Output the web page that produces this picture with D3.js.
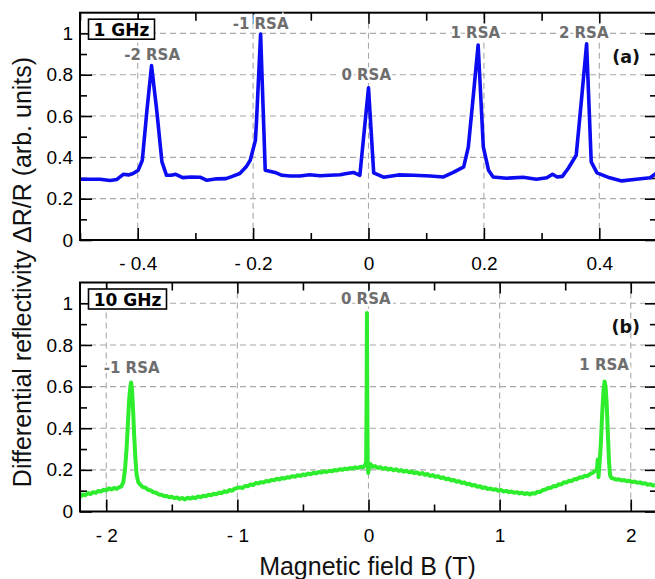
<!DOCTYPE html>
<html>
<head>
<meta charset="utf-8">
<script src="https://cdn.jsdelivr.net/npm/d3@7/dist/d3.min.js"></script>
<style>
  body { margin: 0; background: #fff; }
  svg { display: block; }
</style>
</head>
<body>
<svg id="chart" width="655" height="579"></svg>
<script>
// ---- data ----
// panel (a): 1 GHz, [field (T), dR/R]
const blueTrace = [
  [-0.500, 0.294], [-0.465, 0.294], [-0.448, 0.288], [-0.436, 0.293], [-0.425, 0.318],
  [-0.416, 0.315], [-0.408, 0.322], [-0.399, 0.338], [-0.392, 0.386], [-0.384, 0.627],
  [-0.376, 0.844], [-0.367, 0.627], [-0.358, 0.378], [-0.350, 0.313], [-0.342, 0.313],
  [-0.334, 0.318], [-0.322, 0.302], [-0.307, 0.305], [-0.292, 0.304], [-0.280, 0.289],
  [-0.263, 0.296], [-0.247, 0.297], [-0.236, 0.308], [-0.223, 0.322], [-0.212, 0.354],
  [-0.205, 0.386], [-0.196, 0.482], [-0.194, 0.579], [-0.187, 0.997], [-0.179, 0.338],
  [-0.162, 0.327], [-0.150, 0.313], [-0.136, 0.310], [-0.119, 0.310], [-0.102, 0.316],
  [-0.084, 0.311], [-0.067, 0.313], [-0.049, 0.316], [-0.038, 0.322], [-0.026, 0.327],
  [-0.015, 0.313], [0.000, 0.736], [0.009, 0.325], [0.026, 0.304], [0.052, 0.315],
  [0.078, 0.313], [0.107, 0.310], [0.130, 0.305], [0.147, 0.327], [0.165, 0.354],
  [0.173, 0.450], [0.182, 0.708], [0.190, 0.944], [0.199, 0.450], [0.208, 0.338],
  [0.216, 0.305], [0.239, 0.299], [0.268, 0.304], [0.291, 0.294], [0.309, 0.301],
  [0.319, 0.318], [0.327, 0.305], [0.336, 0.308], [0.346, 0.346], [0.360, 0.410],
  [0.369, 0.675], [0.378, 0.949], [0.386, 0.378], [0.396, 0.325], [0.418, 0.301],
  [0.439, 0.286], [0.464, 0.294], [0.488, 0.301], [0.500, 0.325]
];

// panel (b): 10 GHz, [field (T), dR/R]
const greenTrace = [
  [-2.20, .070], [-2.18, .082], [-2.16, .078], [-2.14, .088], [-2.12, .084], [-2.10, .093],
  [-2.08, .090], [-2.06, .099], [-2.04, .096], [-2.02, .105], [-2.00, .101], [-1.98, .111],
  [-1.96, .106], [-1.94, .113], [-1.92, .109], [-1.90, .117], [-1.885, .120], [-1.87, .140],
  [-1.857, .200], [-1.845, .300], [-1.835, .420], [-1.825, .540], [-1.816, .600], [-1.810, .620],
  [-1.804, .590], [-1.796, .500], [-1.788, .380], [-1.778, .260], [-1.768, .175], [-1.755, .140],
  [-1.74, .128], [-1.72, .117], [-1.70, .114], [-1.68, .104], [-1.66, .101], [-1.64, .092],
  [-1.62, .090], [-1.60, .082], [-1.58, .081], [-1.56, .074], [-1.54, .075], [-1.52, .068],
  [-1.50, .071], [-1.48, .064], [-1.46, .067], [-1.44, .060], [-1.42, .065], [-1.40, .058],
  [-1.38, .066], [-1.36, .062], [-1.34, .068], [-1.32, .064], [-1.30, .072], [-1.28, .069],
  [-1.26, .076], [-1.24, .073], [-1.22, .080], [-1.20, .078], [-1.18, .085], [-1.16, .083],
  [-1.14, .090], [-1.12, .088], [-1.10, .097], [-1.08, .094], [-1.06, .103], [-1.04, .100],
  [-1.02, .110], [-1.00, .113], [-0.98, .116], [-0.96, .113], [-0.94, .123], [-0.92, .121],
  [-0.90, .130], [-0.88, .127], [-0.86, .137], [-0.84, .135], [-0.82, .141], [-0.80, .139],
  [-0.78, .147], [-0.76, .144], [-0.74, .152], [-0.72, .150], [-0.70, .157], [-0.68, .154],
  [-0.66, .161], [-0.64, .158], [-0.62, .165], [-0.60, .163], [-0.58, .170], [-0.56, .167],
  [-0.54, .174], [-0.52, .171], [-0.50, .178], [-0.48, .175], [-0.46, .182], [-0.44, .179],
  [-0.42, .186], [-0.40, .183], [-0.38, .190], [-0.36, .187], [-0.34, .193], [-0.32, .190],
  [-0.30, .196], [-0.28, .193], [-0.26, .199], [-0.24, .197], [-0.22, .203], [-0.20, .200],
  [-0.18, .206], [-0.16, .203], [-0.14, .209], [-0.12, .206], [-0.10, .212], [-0.08, .209],
  [-0.06, .215], [-0.04, .213], [-0.025, .225], [-0.018, .235], [-0.014, .600], [-0.012, .953],
  [-0.010, .600], [-0.006, .240], [-0.002, .185], [0.004, .215], [0.015, .228], [0.03, .214],
  [0.05, .218], [0.07, .209], [0.09, .213], [0.11, .205], [0.13, .209], [0.15, .201],
  [0.17, .206], [0.19, .198], [0.21, .203], [0.23, .195], [0.25, .199], [0.27, .191],
  [0.29, .196], [0.31, .188], [0.33, .192], [0.35, .184], [0.37, .188], [0.39, .180],
  [0.41, .185], [0.43, .176], [0.45, .180], [0.47, .171], [0.49, .175], [0.51, .166],
  [0.53, .170], [0.55, .161], [0.57, .164], [0.59, .155], [0.61, .158], [0.63, .149],
  [0.65, .152], [0.67, .143], [0.69, .146], [0.71, .137], [0.73, .140], [0.75, .131],
  [0.77, .133], [0.79, .125], [0.81, .127], [0.83, .119], [0.85, .121], [0.87, .113],
  [0.89, .116], [0.91, .108], [0.93, .111], [0.95, .104], [0.97, .107], [0.99, .100],
  [1.01, .103], [1.03, .096], [1.05, .099], [1.07, .093], [1.09, .096], [1.11, .090],
  [1.13, .093], [1.15, .087], [1.17, .090], [1.19, .084], [1.21, .088], [1.23, .082],
  [1.25, .088], [1.27, .086], [1.29, .095], [1.31, .094], [1.33, .103], [1.35, .106],
  [1.37, .113], [1.39, .113], [1.41, .122], [1.43, .121], [1.45, .131], [1.47, .130],
  [1.49, .140], [1.51, .139], [1.53, .148], [1.55, .147], [1.57, .156], [1.59, .155],
  [1.61, .164], [1.63, .163], [1.65, .172], [1.67, .171], [1.69, .180], [1.71, .186],
  [1.73, .196], [1.742, .202], [1.748, .250], [1.754, .165], [1.762, .230], [1.772, .330],
  [1.782, .470], [1.792, .580], [1.800, .625], [1.808, .600], [1.816, .520], [1.825, .380],
  [1.834, .240], [1.842, .175], [1.85, .162], [1.87, .158], [1.89, .153], [1.91, .155],
  [1.93, .149], [1.95, .151], [1.97, .145], [1.99, .148], [2.01, .142], [2.03, .144],
  [2.05, .138], [2.07, .140], [2.09, .134], [2.11, .136], [2.13, .129], [2.15, .131],
  [2.17, .125], [2.19, .126], [2.20, .122]
];

// resonance labels: [text, field, level]
const rsaTop = [['-2 RSA', -0.375, 0.873], ['-1 RSA', -0.187, 1.023], ['0 RSA', -0.004, 0.772],
  ['1 RSA', 0.185, 0.979], ['2 RSA', 0.373, 0.979]];
const rsaBottom = [['-1 RSA', -1.806, 0.665], ['0 RSA', -0.021, 0.997], ['1 RSA', 1.797, 0.680]];

// ticks
const yMajor = [0, 0.2, 0.4, 0.6, 0.8, 1];
const yMajorLabels = ['0', '0.2', '0.4', '0.6', '0.8', '1'];
const yMinor = [0.1, 0.3, 0.5, 0.7, 0.9];
const topXMajor = [-0.4, -0.2, 0, 0.2, 0.4];
const topXLabels = ['- 0.4', '- 0.2', '0', '0.2', '0.4'];
const topXMinor = [-0.5, -0.3, -0.1, 0.1, 0.3, 0.5];
const botXMajor = [-2, -1, 0, 1, 2];
const botXLabels = ['- 2', '- 1', '0', '1', '2'];
const botXMinor = [-1.5, -0.5, 0.5, 1.5];

const svg = d3.select('#chart');
const plotLeft = 80, plotRight = 657;
const tickFont = '"Liberation Sans", Arial, Helvetica, sans-serif';
const boldFont = '"DejaVu Sans", Verdana, sans-serif';

const panels = [
  { key: 'a', top: 12.7, bottom: 240, domain: [-0.5, 0.5], major: topXMajor, labels: topXLabels,
    minor: topXMinor, data: blueTrace, color: '#0c0cf2', width: 3.6, freq: '1 GHz', boxW: 66,
    rsa: rsaTop, tag: '(a)' },
  { key: 'b', top: 282.5, bottom: 511.5, domain: [-2.2, 2.2], major: botXMajor, labels: botXLabels,
    minor: botXMinor, data: greenTrace, color: '#2ded2d', width: 4, freq: '10 GHz', boxW: 78,
    rsa: rsaBottom, tag: '(b)' }
];

panels.forEach((p) => {
  const x = d3.scaleLinear().domain(p.domain).range([plotLeft, plotRight]);
  const y = d3.scaleLinear().domain([0, 1.1]).range([p.bottom, p.top]);
  const g = svg.append('g');

  svg.append('clipPath').attr('id', 'clip-' + p.key)
    .append('rect').attr('x', plotLeft).attr('y', p.top)
    .attr('width', plotRight - plotLeft).attr('height', p.bottom - p.top);

  // dashed grid
  const grid = g.append('g').attr('stroke', '#a8a8a8').attr('stroke-width', 1.1)
    .attr('stroke-dasharray', '6,4');
  grid.selectAll('.gy').data(yMajor.filter((v) => v > 0)).enter().append('line')
    .attr('x1', plotLeft).attr('x2', plotRight)
    .attr('y1', (d) => y(d)).attr('y2', (d) => y(d));
  grid.selectAll('.gx').data(p.major).enter().append('line')
    .attr('x1', (d) => x(d)).attr('x2', (d) => x(d))
    .attr('y1', p.top).attr('y2', p.bottom);

  // ticks on all four sides, pointing inward
  const addAxis = (axis, tx, ty) => {
    const a = g.append('g').attr('transform', `translate(${tx},${ty})`).call(axis);
    a.select('.domain').remove();
    a.selectAll('line').attr('stroke', '#000').attr('stroke-width', 1.6);
    a.selectAll('text').attr('font-family', tickFont).attr('font-size', 19).attr('fill', '#000');
    return a;
  };
  addAxis(d3.axisLeft(y).tickValues(yMajor).tickSize(-12).tickPadding(7)
    .tickFormat((d, i) => yMajorLabels[i]), plotLeft, 0);
  addAxis(d3.axisLeft(y).tickValues(yMinor).tickSize(-7).tickFormat(''), plotLeft, 0);
  addAxis(d3.axisRight(y).tickValues(yMajor).tickSize(-12).tickFormat(''), plotRight, 0);
  addAxis(d3.axisRight(y).tickValues(yMinor).tickSize(-7).tickFormat(''), plotRight, 0);
  addAxis(d3.axisBottom(x).tickValues(p.major).tickSize(-12).tickPadding(17)
    .tickFormat((d, i) => p.labels[i]), 0, p.bottom);
  addAxis(d3.axisBottom(x).tickValues(p.minor).tickSize(-7).tickFormat(''), 0, p.bottom);
  addAxis(d3.axisTop(x).tickValues(p.major).tickSize(-11).tickFormat(''), 0, p.top);
  addAxis(d3.axisTop(x).tickValues(p.minor).tickSize(-8).tickFormat(''), 0, p.top);

  // trace
  const line = d3.line().x((d) => x(d[0])).y((d) => y(d[1]));
  g.append('path').datum(p.data)
    .attr('clip-path', `url(#clip-${p.key})`)
    .attr('fill', 'none').attr('stroke', p.color).attr('stroke-width', p.width)
    .attr('stroke-linejoin', 'round').attr('d', line);

  // frame
  g.append('rect').attr('x', plotLeft).attr('y', p.top)
    .attr('width', plotRight - plotLeft).attr('height', p.bottom - p.top)
    .attr('fill', 'none').attr('stroke', '#000').attr('stroke-width', 2);

  // RSA labels with white halo over the grid
  g.selectAll('.rsa').data(p.rsa).enter().append('text')
    .attr('x', (d) => x(d[1])).attr('y', (d) => y(d[2]))
    .attr('text-anchor', 'middle')
    .attr('font-family', boldFont).attr('font-weight', 'bold').attr('font-size', 15)
    .attr('fill', '#6e6e6e').attr('stroke', '#fff').attr('stroke-width', 5)
    .attr('paint-order', 'stroke').text((d) => d[0]);

  // frequency box
  g.append('rect').attr('x', plotLeft + 8.5).attr('y', p.top + 6.5)
    .attr('width', p.boxW).attr('height', 20)
    .attr('fill', '#fff').attr('stroke', '#000').attr('stroke-width', 1.6);
  g.append('text').attr('x', plotLeft + 8.5 + p.boxW / 2).attr('y', p.top + 23.5)
    .attr('text-anchor', 'middle').attr('font-family', boldFont).attr('font-weight', 'bold')
    .attr('font-size', 17).attr('fill', '#000').text(p.freq);

  // panel tag
  g.append('text').attr('x', 640).attr('y', p.top + 50).attr('text-anchor', 'end')
    .attr('font-family', boldFont).attr('font-weight', 'bold').attr('font-size', 17.5)
    .attr('fill', '#111').text(p.tag);
});

// axis titles
svg.append('text').attr('x', 367.5).attr('y', 575).attr('text-anchor', 'middle')
  .attr('font-family', tickFont).attr('font-size', 25).attr('fill', '#111')
  .text('Magnetic field B (T)');
svg.append('text').attr('transform', 'translate(31,272) rotate(-90)').attr('text-anchor', 'middle')
  .attr('font-family', tickFont).attr('font-size', 25).attr('fill', '#111')
  .text('Differential reflectivity \u0394R/R (arb. units)');
</script>
</body>
</html>
